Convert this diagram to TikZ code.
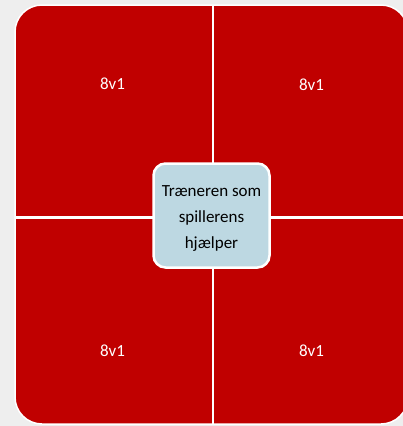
\documentclass[tikz,border=0pt]{standalone}
\usepackage{fontspec}
\setmainfont{Carlito}
\usetikzlibrary{positioning}
\definecolor{quadred}{HTML}{C00000}
\definecolor{hubblue}{HTML}{BDD8E2}
\definecolor{bggray}{HTML}{EEEEEE}
\tikzset{board/.style={fill=quadred, draw=white, line width=1.5pt, rounded corners=27pt},
divider/.style={draw=white, line width=2.5pt},
quadlabel/.style={text=white, font=\fontsize{17}{20}\selectfont},
hub/.style={fill=hubblue, draw=white, line width=2.5pt, rounded corners=12pt, minimum width=116pt, minimum height=104pt},
hubtext/.style={align=center, font=\fontsize{17}{26}\selectfont}}

\begin{document}
\begin{tikzpicture}[x=1pt,y=-1pt]
\useasboundingbox (0,0) rectangle (403,426);
\fill[bggray] (0,0) rectangle (403,426);
\clip (0,0) rectangle (403,426);

% red board, cut into four
\draw[board] (15,5) rectangle (408,424);
\draw[divider] (213,5) -- (213,424);
\draw[divider, line width=3pt] (15,217.5) -- (408,217.5);

\node[quadlabel] (tl) at (112.5,84) {8v1};
\node[quadlabel] (tr) at (311.5,84.5) {8v1};
\node[quadlabel] (bl) at (112.5,351) {8v1};
\node[quadlabel] (br) at (311.5,351) {8v1};

% coach in the middle
\node[hub] (coach) at (211.5,215.5) {};
\node[hubtext] (coachtext) at ([yshift=-2.5pt]coach.center) {Træneren som\\spillerens\\hjælper};
\end{tikzpicture}
\end{document}
